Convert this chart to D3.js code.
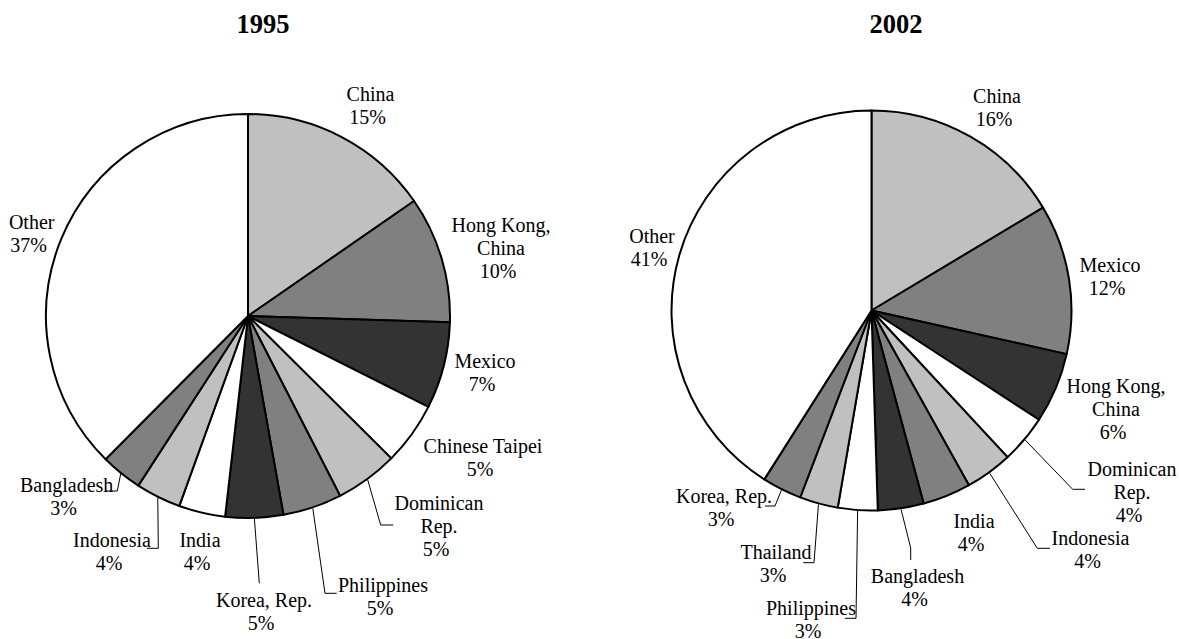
<!DOCTYPE html>
<html>
<head>
<meta charset="utf-8">
<script src="https://cdn.jsdelivr.net/npm/d3@7"></script>
<style>
  html, body { margin: 0; padding: 0; background: #fff; }
  svg { display: block; }
  text { font-family: "Liberation Serif", "Times New Roman", serif; fill: #000; }
</style>
</head>
<body>
<svg id="chart" width="1179" height="639"></svg>
<script>
// ---------------- DATA ----------------
const titles = ["1995", "2002"];

const categories1995 = ["China", "Hong Kong,\nChina", "Mexico", "Chinese Taipei", "Dominican\nRep.",
  "Philippines", "Korea, Rep.", "India", "Indonesia", "Bangladesh", "Other"];
const values1995 = [15.3, 10.1, 6.9, 5.0, 5.0, 4.7, 4.6, 3.7, 3.6, 3.3, 37.4];

const categories2002 = ["China", "Mexico", "Hong Kong,\nChina", "Dominican\nRep.", "Indonesia",
  "India", "Bangladesh", "Philippines", "Thailand", "Korea, Rep.", "Other"];
const values2002 = [16.4, 12.1, 5.7, 3.9, 3.8, 3.9, 3.7, 3.2, 3.1, 3.2, 41.0];

// ---------------- STYLE / LAYOUT ----------------
const fillCycle = ["#c0c0c0", "#808080", "#333333", "#ffffff"];
const otherFill = "#ffffff";

const pies = [
  {
    title: titles[0], titleX: 263, cx: 248, cy: 316, r: 202,
    categories: categories1995, values: values1995,
    labels: [
      {x: 370.5, y: 101}, {x: 501, y: 231.5}, {x: 485, y: 368}, {x: 483, y: 452.5},
      {x: 439, y: 510}, {x: 383, y: 591.5}, {x: 264, y: 606.5}, {x: 200, y: 546.5},
      {x: 112, y: 546.5}, {x: 66.7, y: 491.5}, {x: 31.7, y: 228.5}
    ],
    leaders: {
      4: [[380.7, 525], [393.3, 525]],
      5: [[325, 593.3], [336.7, 593.3]],
      6: [[259.3, 583.3]],
      8: [[158.3, 548.3], [146.7, 548.3]],
      9: [[117.3, 491], [105, 491]]
    }
  },
  {
    title: titles[1], titleX: 896, cx: 871.5, cy: 310.5, r: 200,
    categories: categories2002, values: values2002,
    labels: [
      {x: 997, y: 102.5}, {x: 1110, y: 271.5}, {x: 1116, y: 393.3}, {x: 1132, y: 475.7},
      {x: 1090.5, y: 545}, {x: 974, y: 528.3}, {x: 917.5, y: 583.3}, {x: 811, y: 615},
      {x: 776, y: 559.3}, {x: 724, y: 503.3}, {x: 652, y: 243.3}
    ],
    leaders: {
      3: [[1072.7, 489.3], [1085, 489.3]],
      4: [[1037.3, 548.3], [1050, 548.3]],
      6: [[910.7, 548], [910.7, 560]],
      7: [[856, 618.3], [845, 618.3]],
      8: [[814, 562.7], [803.3, 562.7]],
      9: [[775, 506], [765, 506]]
    }
  }
];

const lineH = 23;
const fontSize = 20;

// ---------------- DRAW ----------------
const svg = d3.select("#chart");

pies.forEach(p => {
  const data = p.categories.map((c, i) => ({name: c, value: p.values[i], i}));
  const pieGen = d3.pie().sort(null).value(d => d.value);
  const arcs = pieGen(data);
  const arcGen = d3.arc().innerRadius(0).outerRadius(p.r);

  svg.append("text")
    .attr("x", p.titleX).attr("y", 33)
    .attr("text-anchor", "middle")
    .attr("font-weight", "bold")
    .attr("font-size", 26.5)
    .text(p.title);

  const g = svg.append("g").attr("transform", `translate(${p.cx},${p.cy})`);

  g.selectAll("path.slice")
    .data(arcs)
    .join("path")
    .attr("class", "slice")
    .attr("d", arcGen)
    .attr("fill", d => d.data.name === "Other" ? otherFill : fillCycle[d.index % 4])
    .attr("stroke", "#000")
    .attr("stroke-width", 2)
    .attr("stroke-linejoin", "round");

  // leader lines
  arcs.forEach(a => {
    const pts = p.leaders[a.index];
    if (!pts) return;
    const mid = (a.startAngle + a.endAngle) / 2;
    const start = [p.cx + (p.r + 1) * Math.sin(mid), p.cy - (p.r + 1) * Math.cos(mid)];
    const line = d3.line();
    svg.append("path")
      .attr("d", line([start, ...pts]))
      .attr("fill", "none")
      .attr("stroke", "#000")
      .attr("stroke-width", 1);
  });

  // labels
  arcs.forEach(a => {
    const pos = p.labels[a.index];
    const lines = a.data.name.split("\n");
    const pct = Math.round(a.data.value) + "%";
    const t = svg.append("text")
      .attr("text-anchor", "middle")
      .attr("font-size", fontSize);
    lines.forEach((ln, k) => {
      t.append("tspan").attr("x", pos.x).attr("y", pos.y + k * lineH).text(ln);
    });
    t.append("tspan").attr("x", pos.x - 3).attr("y", pos.y + lines.length * lineH).text(pct);
  });
});
</script>
</body>
</html>
